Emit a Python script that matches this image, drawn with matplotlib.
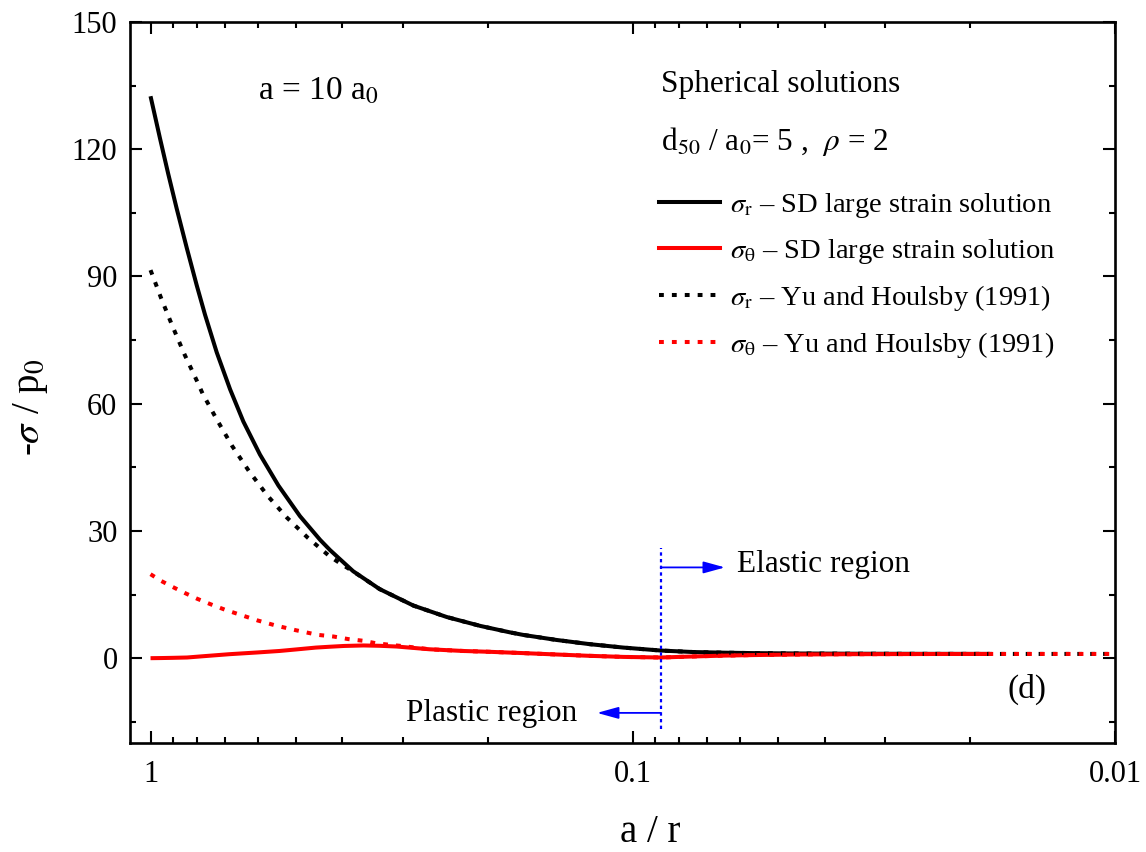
import matplotlib
matplotlib.use("Agg")
import matplotlib.pyplot as plt
from matplotlib.lines import Line2D
from matplotlib.ticker import FixedLocator, FixedFormatter, LogLocator, NullFormatter, MultipleLocator

plt.rcParams['font.family'] = ['Liberation Serif', 'DejaVu Serif']
plt.rcParams['mathtext.fontset'] = 'stix'

# ---------------- data ----------------
# SD large strain solution (a = 10 a0): radial stress
x_sr_sd = [1.0, 0.956, 0.919, 0.883, 0.841, 0.802, 0.771, 0.729, 0.684, 0.642, 0.593,
           0.543, 0.49, 0.445, 0.4245, 0.408, 0.38, 0.335, 0.285, 0.243, 0.207, 0.18,
           0.169, 0.144, 0.1227, 0.1046, 0.0875, 0.075, 0.065, 0.055, 0.045, 0.035,
           0.025, 0.0182]
sr_sd = [132.5, 122.6, 114.2, 106.1, 96.7, 87.9, 81.0, 72.1, 63.4, 55.8, 48.0,
         40.7, 33.5, 27.9, 25.5, 23.7, 20.5, 16.3, 12.4, 9.7, 7.6, 6.1,
         5.5, 4.3, 3.3, 2.5, 1.8, 1.45, 1.3, 1.18, 1.1, 1.05,
         1.02, 1.0]

# SD large strain solution: hoop stress
x_st_sd = [1.0, 0.95, 0.9, 0.84, 0.78, 0.686, 0.6, 0.54, 0.5, 0.454, 0.4245, 0.397,
           0.362, 0.335, 0.309, 0.264, 0.225, 0.198, 0.169, 0.144, 0.1227, 0.1046,
           0.0875, 0.075, 0.065, 0.055, 0.045, 0.035, 0.025, 0.0182]
st_sd = [0.0, 0.03, 0.08, 0.16, 0.45, 0.94, 1.35, 1.7, 2.05, 2.5, 2.7, 2.88,
         3.0, 2.92, 2.75, 2.1, 1.7, 1.5, 1.2, 0.87, 0.55, 0.3,
         0.16, 0.4, 0.6, 0.75, 0.87, 0.94, 0.98, 1.0]

# Yu and Houlsby (1991): radial stress
x_sr_yh = [1.0, 0.95, 0.9, 0.85, 0.8, 0.78, 0.729, 0.677, 0.625, 0.571, 0.521, 0.472,
           0.424, 0.401, 0.377, 0.335, 0.285, 0.243, 0.207, 0.18, 0.169, 0.144, 0.1227,
           0.1046, 0.0875, 0.075, 0.065, 0.055, 0.045, 0.035, 0.025, 0.0182, 0.014, 0.01]
sr_yh = [91.5, 84.8, 78.2, 71.6, 65.2, 62.4, 56.3, 50.0, 44.1, 38.2, 33.1, 28.4,
         23.9, 22.1, 20.2, 16.3, 12.4, 9.7, 7.6, 6.1, 5.5, 4.3, 3.3,
         2.5, 1.8, 1.45, 1.3, 1.18, 1.1, 1.05, 1.02, 1.0, 1.0, 1.0]

# Yu and Houlsby (1991): hoop stress
x_st_yh = [1.0, 0.95, 0.9, 0.85, 0.8, 0.75, 0.7, 0.65, 0.6, 0.55, 0.5, 0.45, 0.417,
           0.389, 0.362, 0.34, 0.316, 0.3, 0.264, 0.225, 0.198, 0.169, 0.144, 0.1227,
           0.1046, 0.0875, 0.075, 0.065, 0.055, 0.045, 0.035, 0.025, 0.0182, 0.014, 0.01]
st_yh = [19.8, 18.2, 16.8, 15.4, 14.0, 12.7, 11.4, 10.2, 8.9, 7.7, 6.6, 5.5, 5.1,
         4.5, 4.1, 3.5, 3.1, 2.85, 2.1, 1.7, 1.5, 1.2, 0.87, 0.55,
         0.3, 0.16, 0.4, 0.6, 0.75, 0.87, 0.94, 0.98, 1.0, 1.0, 1.0]

labels = [r"$\sigma_{\mathrm{r}}$ – SD large strain solution",
          r"$\sigma_{\mathrm{\theta}}$ – SD large strain solution",
          r"$\sigma_{\mathrm{r}}$ – Yu and Houlsby (1991)",
          r"$\sigma_{\mathrm{\theta}}$ – Yu and Houlsby (1991)"]

x_ticks = [1, 0.1, 0.01]
x_ticklabels = ["1", "0.1", "0.01"]
y_ticks = [0, 30, 60, 90, 120, 150]

boundary_x = 0.0875
boundary_ylim = (-16.7, 26.0)
elastic_arrow = (0.0644, 21.4)
plastic_arrow = (0.1186, -12.9)

# ---------------- figure ----------------
fig = plt.figure(figsize=(11.46, 8.52), dpi=100)
ax = fig.add_axes([130/1146, 1-743/852, 985/1146, 721/852])

lw = 2.9
dots = (1.2, 2.0)
ax.plot(x_sr_sd, sr_sd, color='black', lw=lw, solid_capstyle='butt')
ax.plot(x_st_sd, st_sd, color='red', lw=lw, solid_capstyle='butt')
ax.plot(x_sr_yh, sr_yh, color='black', lw=lw, dashes=dots)
ax.plot(x_st_yh, st_yh, color='red', lw=lw, dashes=dots)

ax.set_xscale('log')
ax.set_xlim(1.103, 0.01)
ax.set_ylim(-20, 150)

ax.xaxis.set_major_locator(FixedLocator(x_ticks))
ax.xaxis.set_major_formatter(FixedFormatter(x_ticklabels))
ax.xaxis.set_minor_locator(LogLocator(base=10, subs=range(2, 10)))
ax.xaxis.set_minor_formatter(NullFormatter())
ax.yaxis.set_major_locator(FixedLocator(y_ticks))
ax.yaxis.set_minor_locator(MultipleLocator(15))

for s in ax.spines.values():
    s.set_linewidth(1.9)
ax.tick_params(which='both', direction='in', top=True, right=True, width=1.5,
               labelsize=22)
ax.tick_params(which='major', length=8.6)
ax.tick_params(which='minor', length=4.3)
ax.tick_params(axis='x', which='major', pad=12)
ax.tick_params(axis='y', which='major', pad=9)

ax.set_xlabel("a / r", fontsize=28)
ax.set_ylabel(r"-$\sigma$ / p$_0$", fontsize=28)
ax.xaxis.set_label_coords(0.528, -0.098)
ax.yaxis.set_label_coords(-0.081, 0.466)

# boundary line and arrows
ax.vlines(boundary_x, boundary_ylim[0], boundary_ylim[1], colors='blue', lw=1.6,
          linestyles=(0, (1.5, 1.5)))
ap = dict(arrowstyle='-|>,head_length=0.87,head_width=0.24', color='blue', lw=1.3,
          mutation_scale=15, shrinkA=0, shrinkB=0)
ax.annotate('', xy=elastic_arrow, xytext=(boundary_x, elastic_arrow[1]), arrowprops=ap)
ax.annotate('', xy=plastic_arrow, xytext=(boundary_x, plastic_arrow[1]), arrowprops=ap)
ax.text(0.0608, 20.3, "Elastic region", fontsize=22.5, ha='left', va='baseline')
ax.text(0.1305, -14.8, "Plastic region", fontsize=22.5, ha='right', va='baseline')
ax.text(0.0152, -7.3, "(d)", fontsize=24, ha='center', va='center')

# annotation texts
ax.text(0.130, 0.892, r"a = 10 a$_{0}$", transform=ax.transAxes, fontsize=24,
        ha='left', va='baseline')
ax.text(0.539, 0.903, "Spherical solutions", transform=ax.transAxes, fontsize=22.5,
        ha='left', va='baseline')
ax.text(0.539, 0.822, r"d$_{50}$ / a$_{0}$= 5 ,  $\rho$ = 2", transform=ax.transAxes,
        fontsize=22.5, ha='left', va='baseline')

handles = [Line2D([], [], color='black', lw=lw),
           Line2D([], [], color='red', lw=lw),
           Line2D([], [], color='black', lw=lw, dashes=dots),
           Line2D([], [], color='red', lw=lw, dashes=dots)]
ax.legend(handles, labels, loc='upper left', bbox_to_anchor=(0.537, 0.766),
          frameon=False, fontsize=20.5, handlelength=2.15, handletextpad=0.35,
          labelspacing=0.6, borderaxespad=0, borderpad=0)

fig.savefig("out.png", dpi=100)
